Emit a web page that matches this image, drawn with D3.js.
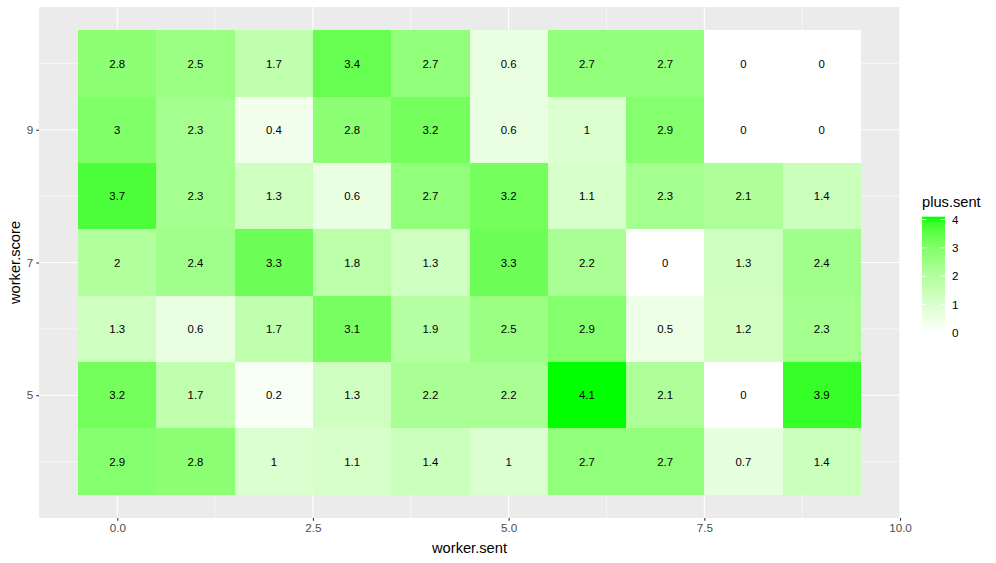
<!DOCTYPE html>
<html>
<head>
<meta charset="utf-8">
<script src="https://cdn.jsdelivr.net/npm/d3@7"></script>
<style>
body{margin:0;background:#fff;}
text{font-family:"Liberation Sans",Arial,sans-serif;}
</style>
</head>
<body>
<svg id="chart" width="996" height="563"></svg>
<script>
const xCats = [0,1,2,3,4,5,6,7,8,9];
const yCats = [4,5,6,7,8,9,10];
// rows listed from worker.score = 10 down to 4
const row10 = [2.8, 2.5, 1.7, 3.4, 2.7, 0.6, 2.7, 2.7, 0, 0];
const row9  = [3, 2.3, 0.4, 2.8, 3.2, 0.6, 1, 2.9, 0, 0];
const row8  = [3.7, 2.3, 1.3, 0.6, 2.7, 3.2, 1.1, 2.3, 2.1, 1.4];
const row7  = [2, 2.4, 3.3, 1.8, 1.3, 3.3, 2.2, 0, 1.3, 2.4];
const row6  = [1.3, 0.6, 1.7, 3.1, 1.9, 2.5, 2.9, 0.5, 1.2, 2.3];
const row5  = [3.2, 1.7, 0.2, 1.3, 2.2, 2.2, 4.1, 2.1, 0, 3.9];
const row4  = [2.9, 2.8, 1, 1.1, 1.4, 1, 2.7, 2.7, 0.7, 1.4];
const xTicks = [0, 2.5, 5, 7.5, 10];
const xMinor = [1.25, 3.75, 6.25, 8.75];
const yTicks = [5, 7, 9];
const yMinor = [4, 6, 8, 10];
const legendTicks = [0, 1, 2, 3, 4];

const rows = {10: row10, 9: row9, 8: row8, 7: row7, 6: row6, 5: row5, 4: row4};
const data = [];
yCats.forEach(y => rows[y].forEach((v, i) => data.push({x: xCats[i], y: y, v: v})));

const svg = d3.select("#chart");
const P = {l: 39, r: 900, t: 7, b: 518};

const x = d3.scaleLinear().domain([-1, 10]).range([P.l, P.r]);
const y = d3.scaleLinear().domain([3.15, 10.85]).range([P.b, P.t]);
const vmax = d3.max(data, d => d.v);
const color = d3.scaleLinear().domain([0, vmax]).range(["#ffffff", "#00ff00"]).interpolate(d3.interpolateLab);

// panel
svg.append("rect").attr("x", P.l).attr("y", P.t).attr("width", P.r - P.l).attr("height", P.b - P.t).attr("fill", "#EBEBEB");
const grid = svg.append("g");
xMinor.forEach(t => grid.append("line").attr("x1", x(t)).attr("x2", x(t)).attr("y1", P.t).attr("y2", P.b).attr("stroke", "#fff").attr("stroke-width", 0.55));
yMinor.forEach(t => grid.append("line").attr("y1", y(t)).attr("y2", y(t)).attr("x1", P.l).attr("x2", P.r).attr("stroke", "#fff").attr("stroke-width", 0.55));
xTicks.forEach(t => grid.append("line").attr("x1", x(t)).attr("x2", x(t)).attr("y1", P.t).attr("y2", P.b).attr("stroke", "#fff").attr("stroke-width", 1.1));
yTicks.forEach(t => grid.append("line").attr("y1", y(t)).attr("y2", y(t)).attr("x1", P.l).attr("x2", P.r).attr("stroke", "#fff").attr("stroke-width", 1.1));

// tiles
svg.append("g").selectAll("rect").data(data).join("rect")
  .attr("x", d => x(d.x - 0.5))
  .attr("y", d => y(d.y + 0.5))
  .attr("width", d => x(d.x + 0.5) - x(d.x - 0.5))
  .attr("height", d => y(d.y - 0.5) - y(d.y + 0.5))
  .attr("fill", d => color(d.v))
  .attr("shape-rendering", "crispEdges");

svg.append("g").selectAll("text").data(data).join("text")
  .attr("x", d => x(d.x))
  .attr("y", d => y(d.y))
  .attr("dy", "0.36em")
  .attr("text-anchor", "middle")
  .attr("font-size", "11.4px")
  .attr("fill", "#000")
  .text(d => String(d.v));

// axes
const xAxis = d3.axisBottom(x).tickValues(xTicks).tickFormat(d3.format(".1f")).tickSize(2.75).tickPadding(3);
const gx = svg.append("g").attr("transform", `translate(0,${P.b})`).call(xAxis);
const yAxis = d3.axisLeft(y).tickValues(yTicks).tickFormat(d3.format("d")).tickSize(2.75).tickPadding(3);
const gy = svg.append("g").attr("transform", `translate(${P.l},0)`).call(yAxis);
[gx, gy].forEach(g => {
  g.select(".domain").remove();
  g.selectAll(".tick line").attr("stroke", "#333333").attr("stroke-width", 1.1);
  g.selectAll(".tick text").attr("fill", "#4D4D4D").attr("font-size", "11.7px").attr("font-family", "Liberation Sans, Arial, sans-serif");
});

svg.append("text").attr("x", (P.l + P.r) / 2).attr("y", 553).attr("text-anchor", "middle")
  .attr("font-size", "14.67px").attr("fill", "#000").text("worker.sent");
svg.append("text").attr("transform", `translate(20,${(P.t + P.b) / 2}) rotate(-90)`).attr("text-anchor", "middle")
  .attr("font-size", "14.67px").attr("fill", "#000").text("worker.score");

// legend
const L = {x: 922, w: 23, top: 216.7, bot: 333};
const ly = d3.scaleLinear().domain([0, vmax]).range([L.bot, L.top]);
const defs = svg.append("defs");
const grad = defs.append("linearGradient").attr("id", "lg").attr("x1", 0).attr("x2", 0).attr("y1", 1).attr("y2", 0);
d3.range(0, 1.0001, 0.05).forEach(t => grad.append("stop").attr("offset", t).attr("stop-color", color(t * vmax)));
svg.append("rect").attr("x", L.x).attr("y", L.top).attr("width", L.w).attr("height", L.bot - L.top).attr("fill", "url(#lg)");
const lg = svg.append("g");
legendTicks.forEach(t => {
  lg.append("line").attr("x1", L.x).attr("x2", L.x + 4.6).attr("y1", ly(t)).attr("y2", ly(t)).attr("stroke", "#fff").attr("stroke-width", 1);
  lg.append("line").attr("x1", L.x + L.w - 4.6).attr("x2", L.x + L.w).attr("y1", ly(t)).attr("y2", ly(t)).attr("stroke", "#fff").attr("stroke-width", 1);
  lg.append("text").attr("x", 952).attr("y", ly(t)).attr("dy", "0.36em").attr("font-size", "11.7px").attr("fill", "#000").text(t);
});
svg.append("text").attr("x", 922).attr("y", 207).attr("font-size", "14.67px").attr("fill", "#000").text("plus.sent");
</script>
</body>
</html>
